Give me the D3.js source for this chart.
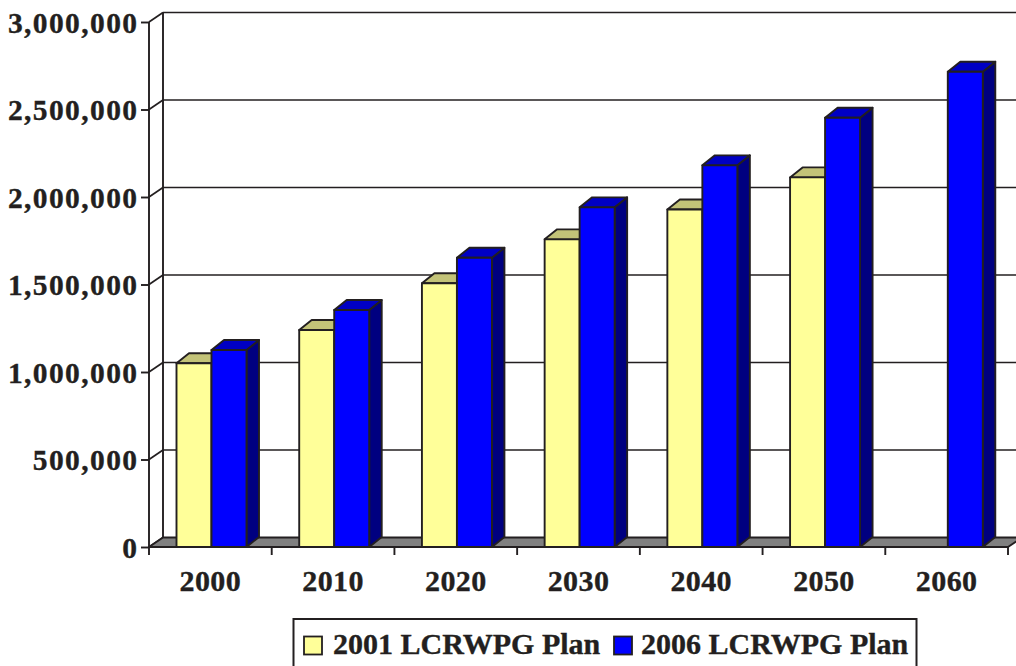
<!DOCTYPE html>
<html>
<head>
<meta charset="utf-8">
<script src="https://cdn.jsdelivr.net/npm/d3@7/dist/d3.min.js"></script>
<style>
  html, body { margin: 0; padding: 0; background: #ffffff; }
  svg { display: block; }
  text { font-family: "Liberation Serif", "Times New Roman", serif; font-weight: bold; fill: #231f20; stroke: #231f20; stroke-width: 0.35px; }
</style>
</head>
<body>
<svg id="chart" width="1016" height="666"></svg>
<script>
const categories = ["2000", "2010", "2020", "2030", "2040", "2050", "2060"];
const seriesNames = ["2001 LCRWPG Plan", "2006 LCRWPG Plan"];
const plan2001 = [1050000, 1240000, 1507000, 1758000, 1929000, 2112000, null];
const plan2006 = [1126000, 1354000, 1653000, 1941000, 2181000, 2453000, 2716000];
const yTicks = [0, 500000, 1000000, 1500000, 2000000, 2500000, 3000000];

const ink = "#231f20";
const colors = {
  front: ["#ffff99", "#0000ff"],
  top:   ["#c3c378", "#0000c4"],
  side:  ["#80804c", "#000080"]
};

const svg = d3.select("#chart");
const x0 = 149, x1 = 1008, yBase = 547, yTop = 22;
const wallDx = 14, wallDy = -9.5;
const barDx = 12.5, barDy = -10;

const x = d3.scaleBand().domain(categories).range([x0, x1]).padding(0);
const xs = d3.scaleBand().domain(seriesNames).range([27.5, 97.5]).padding(0);
const y = d3.scaleLinear().domain([0, 3000000]).range([yBase, yTop]);

// back wall gridlines + side-wall diagonals
const grid = svg.append("g");
yTicks.forEach(t => {
  const yy = y(t);
  if (t > 0) {
    grid.append("line").attr("x1", x0 + wallDx).attr("x2", 1040)
      .attr("y1", yy + wallDy).attr("y2", yy + wallDy)
      .attr("stroke", ink).attr("stroke-width", 1.7);
  }
  grid.append("line").attr("x1", x0).attr("y1", yy)
    .attr("x2", x0 + wallDx).attr("y2", yy + wallDy)
    .attr("stroke", ink).attr("stroke-width", 1.7);
});
// back wall left edge
grid.append("line").attr("x1", x0 + wallDx).attr("x2", x0 + wallDx)
  .attr("y1", y(3000000) + wallDy).attr("y2", yBase + wallDy)
  .attr("stroke", ink).attr("stroke-width", 1.9);

// floor
svg.append("path")
  .attr("d", `M${x0},${yBase} L${x1},${yBase} L${x1 + wallDx},${yBase + wallDy} L${x0 + wallDx},${yBase + wallDy} Z`)
  .attr("fill", "#808080").attr("stroke", ink).attr("stroke-width", 1.9).attr("stroke-linejoin", "round");

// front left vertical edge
svg.append("line").attr("x1", x0).attr("x2", x0)
  .attr("y1", y(3000000)).attr("y2", yBase)
  .attr("stroke", ink).attr("stroke-width", 1.9);

// y axis labels and ticks
const yAxis = d3.axisLeft(y).tickValues(yTicks).tickFormat(d3.format(",")).tickSize(8).tickPadding(2.5);
const gy = svg.append("g").attr("transform", `translate(${x0},0)`).call(yAxis);
gy.select(".domain").remove();
gy.selectAll(".tick line").attr("stroke", ink).attr("stroke-width", 1.9);
gy.selectAll(".tick text").attr("font-size", 29.5).attr("dy", "0.35em")
  .style("letter-spacing", "1.4px")
  .style("font-family", "'Liberation Serif', serif").style("font-weight", "bold").attr("fill", ink);

// bars
const data = categories.map((c, i) => ({ c, vals: [plan2001[i], plan2006[i]] }));
const bars = svg.append("g");
data.forEach(d => {
  d.vals.forEach((v, si) => {
    if (v == null) return;
    const bx = x(d.c) + xs(seriesNames[si]);
    const w = xs.bandwidth();
    const yt = y(v);
    const g = bars.append("g").attr("stroke", ink).attr("stroke-width", 1.9).attr("stroke-linejoin", "round");
    g.append("path")
      .attr("d", `M${bx + w},${yt} L${bx + w + barDx},${yt + barDy} L${bx + w + barDx},${yBase + barDy} L${bx + w},${yBase} Z`)
      .attr("fill", colors.side[si]);
    g.append("path")
      .attr("d", `M${bx},${yt} L${bx + barDx},${yt + barDy} L${bx + w + barDx},${yt + barDy} L${bx + w},${yt} Z`)
      .attr("fill", colors.top[si]);
    g.append("rect").attr("x", bx).attr("y", yt).attr("width", w).attr("height", yBase - yt)
      .attr("fill", colors.front[si]);
  });
});

// x axis front edge with boundary ticks
svg.append("line").attr("x1", x0).attr("x2", x1).attr("y1", yBase).attr("y2", yBase)
  .attr("stroke", ink).attr("stroke-width", 1.9);
d3.range(categories.length + 1).forEach(k => {
  const tx = x0 + k * x.step();
  svg.append("line").attr("x1", tx).attr("x2", tx).attr("y1", yBase).attr("y2", yBase + 8)
    .attr("stroke", ink).attr("stroke-width", 1.9);
});
const xAxis = d3.axisBottom(x).tickSize(0).tickPadding(0);
const gx = svg.append("g").attr("transform", `translate(0,${yBase})`).call(xAxis);
gx.select(".domain").remove();
gx.selectAll(".tick text").attr("font-size", 30).attr("y", 44).attr("dy", 0)
  .style("letter-spacing", "0.4px")
  .style("font-family", "'Liberation Serif', serif").style("font-weight", "bold").attr("fill", ink);

// legend
const lg = svg.append("g");
lg.append("rect").attr("x", 293.5).attr("y", 619).attr("width", 623).attr("height", 60)
  .attr("fill", "#ffffff").attr("stroke", ink).attr("stroke-width", 2);
const legendItems = [
  { name: seriesNames[0], color: colors.front[0], sx: 304, tx: 333 },
  { name: seriesNames[1], color: colors.front[1], sx: 614, tx: 641 }
];
legendItems.forEach(it => {
  lg.append("rect").attr("x", it.sx).attr("y", 636.5).attr("width", 18).attr("height", 18)
    .attr("fill", it.color).attr("stroke", ink).attr("stroke-width", 1.8);
  lg.append("text").attr("x", it.tx).attr("y", 654).attr("font-size", 30).text(it.name);
});
</script>
</body>
</html>
